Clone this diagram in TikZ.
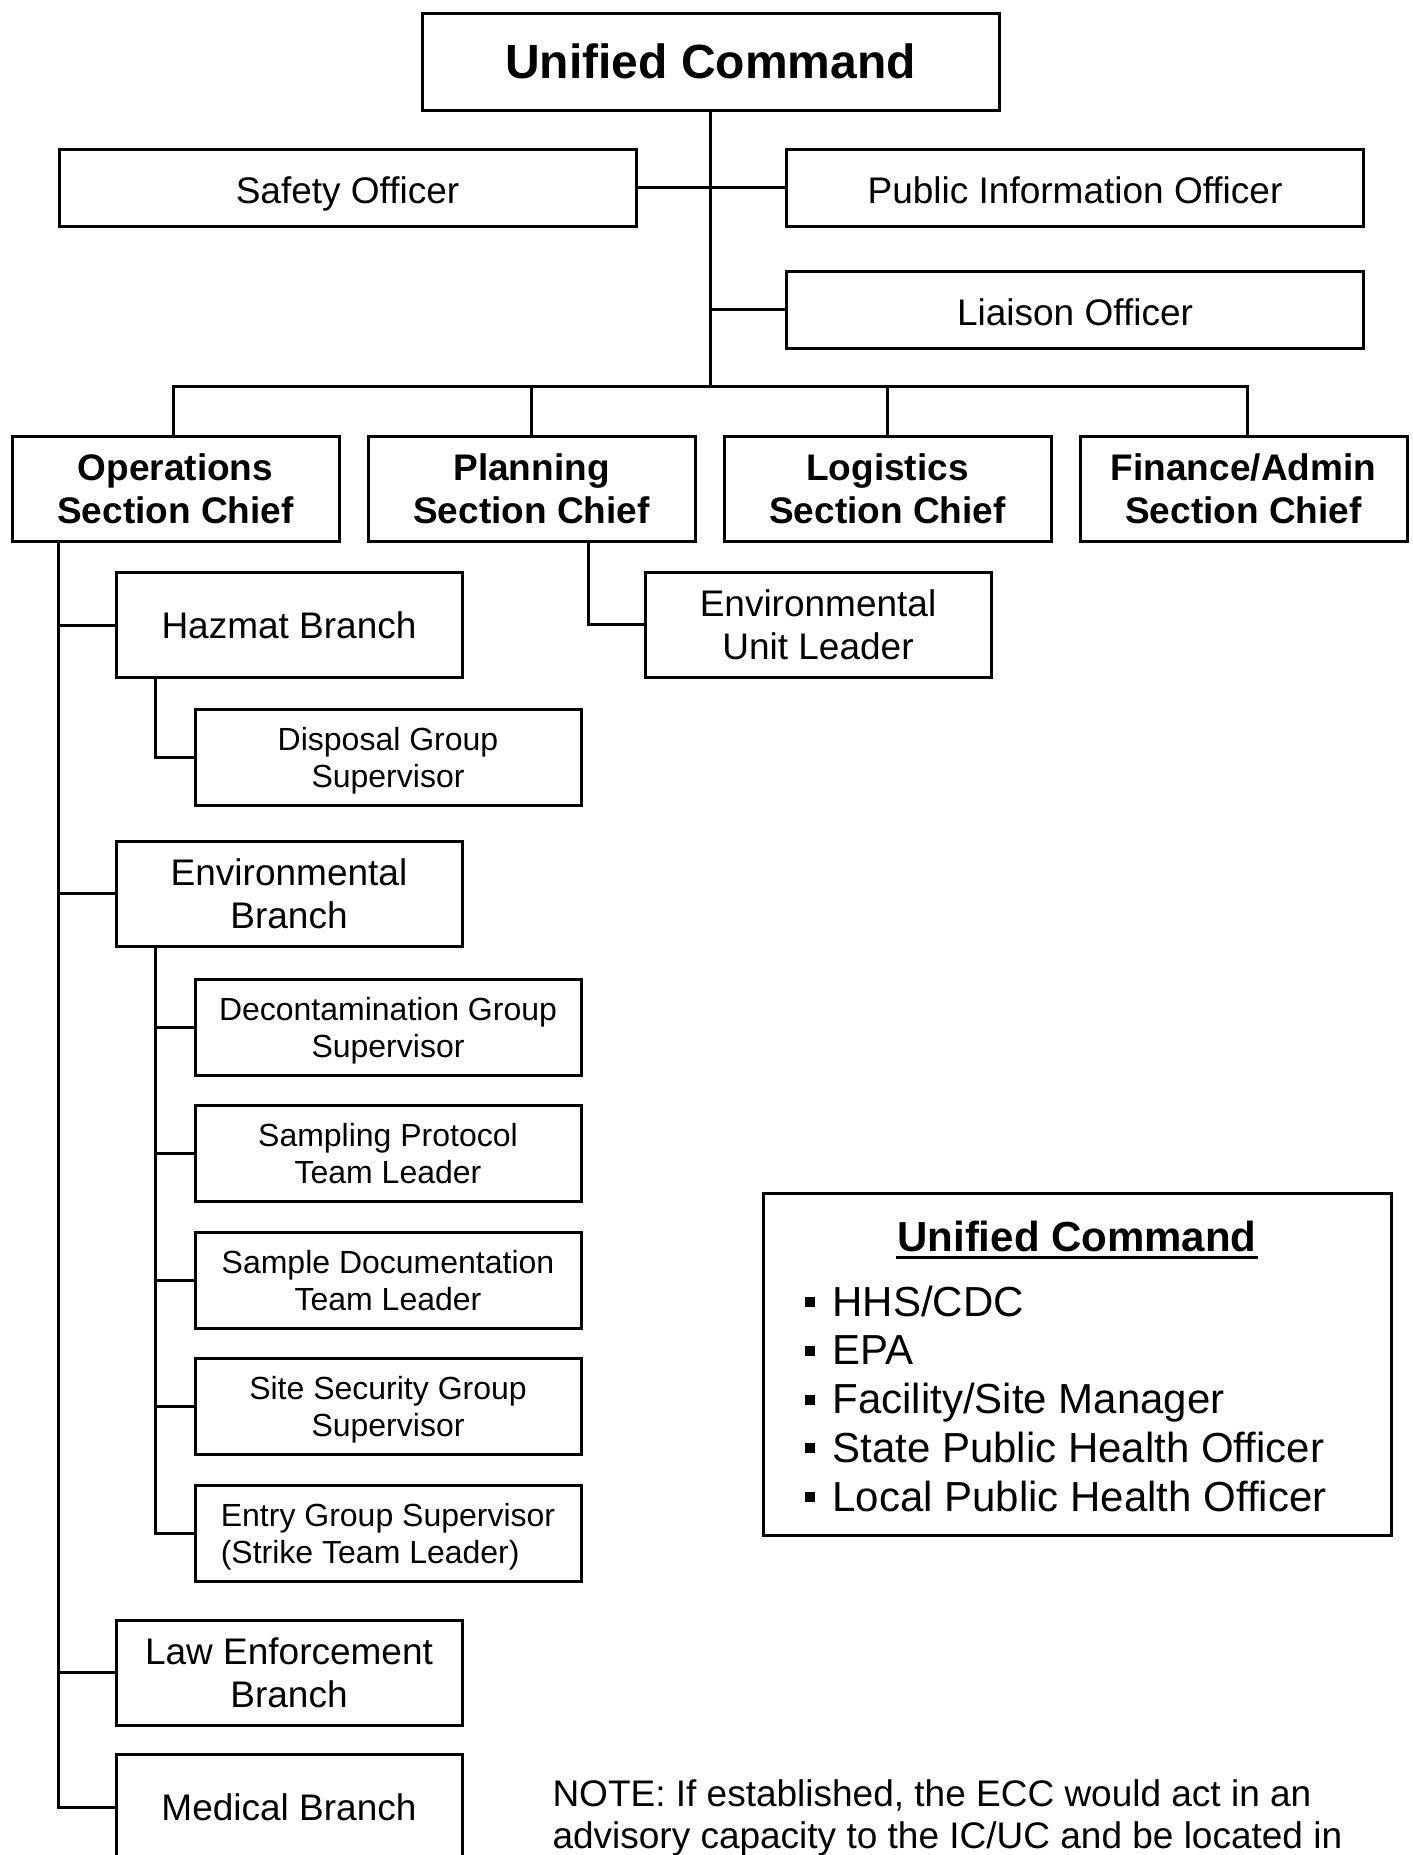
\documentclass[tikz,border=0pt]{standalone}
\usepackage{fontspec}
\setmainfont{Liberation Sans}
\usepackage{tikz}
\usetikzlibrary{positioning}
\newcommand{\legbullet}{\rule[9pt]{10pt}{10pt}\hspace{18pt}}

\begin{document}
\begin{tikzpicture}[x=1pt, y=-1pt, line width=3pt]
    \tikzstyle{ucbox} = [rectangle, draw, minimum width=577pt, minimum height=97pt, inner sep=0pt, font=\fontsize{48}{55}\selectfont\bfseries]
    \tikzstyle{officer} = [rectangle, draw, minimum width=577pt, minimum height=77pt, inner sep=0pt, text height=32pt, text depth=0pt, font=\fontsize{37}{42.5}\selectfont]
    \tikzstyle{chief} = [rectangle, draw, minimum width=327pt, minimum height=105pt, inner sep=0pt, align=center, text depth=0pt, font=\fontsize{37}{42.6}\selectfont\bfseries]
    \tikzstyle{branch} = [rectangle, draw, minimum width=346pt, minimum height=105pt, inner sep=0pt, align=center, text depth=0pt, font=\fontsize{37}{42.5}\selectfont]
    \tikzstyle{group} = [rectangle, draw, minimum width=386pt, minimum height=96pt, inner sep=0pt, align=center, text depth=0pt, font=\fontsize{32}{36.8}\selectfont]
    \tikzstyle{legitem} = [anchor=base west, inner sep=0pt, font=\fontsize{42}{48}\selectfont]

    \useasboundingbox (0,0) rectangle (1413,1855);
    \clip (0,0) rectangle (1413,1855);

    % command staff
    \node [ucbox] (uc) at (710.5,61.5) {Unified Command};
    \node [officer] (safety) at (347.5,187.5) {Safety Officer};
    \node [officer] (pio) at (1075,187.5) {Public Information Officer};
    \node [officer, below=42pt of pio] (liaison) {Liaison Officer};

    % sections
    \node [chief] (ops) at (175.5,488.5) {Operations\\Section Chief};
    \node [chief, right=26pt of ops] (plan) {Planning\\Section Chief};
    \node [chief, right=26pt of plan] (logi) {Logistics\\Section Chief};
    \node [chief, right=26pt of logi] (fin) {Finance/Admin\\Section Chief};
    \node [branch] (envunit) at (818,624.5) {Environmental\\Unit Leader};

    % operations branches
    \node [branch] (hazmat) at (289,625) {Hazmat Branch};
    \node [group] (disposal) at (388,757.5) {Disposal Group\\Supervisor};
    \node [branch] (envbranch) at (289,893.5) {Environmental\\Branch};
    \node [group] (decon) at (388,1027) {Decontamination Group\\Supervisor};
    \node [group, below=27.5pt of decon] (sampling) {Sampling Protocol\\Team Leader};
    \node [group, below=27.5pt of sampling] (sampledoc) {Sample Documentation\\Team Leader};
    \node [group, below=27.5pt of sampledoc] (sitesec) {Site Security Group\\Supervisor};
    \node [group, below=27.5pt of sitesec, align=left] (entry) {Entry Group Supervisor\\(Strike Team Leader)};
    \node [branch] (lawenf) at (289,1672.5) {Law Enforcement\\Branch};
    \node [branch] (medical) at (289,1807) {Medical Branch};

    % connectors
    \coordinate (bus) at (710.5,386);
    \draw (uc.south) -- (bus);
    \draw (safety.east) -- (pio.west);
    \draw (liaison.west) -- (liaison.west -| uc.south);
    \draw ([xshift=-2pt]ops.north) |- (bus) -| ([xshift=4pt]fin.north);
    \draw (plan.north) -- (plan.north |- bus);
    \draw (logi.north) -- (logi.north |- bus);
    \draw ([xshift=56.5pt]plan.south) |- (envunit.west);

    \coordinate (opstrunk) at ([xshift=-117pt]ops.south);
    \draw (opstrunk) |- (medical.west);
    \draw (hazmat.west) -- (hazmat.west -| opstrunk);
    \draw (envbranch.west) -- (envbranch.west -| opstrunk);
    \draw (lawenf.west) -- (lawenf.west -| opstrunk);
    \draw ([xshift=-134pt]hazmat.south) |- (disposal.west);

    \coordinate (envtrunk) at ([xshift=-134pt]envbranch.south);
    \draw (envtrunk) |- (entry.west);
    \draw (decon.west) -- (decon.west -| envtrunk);
    \draw (sampling.west) -- (sampling.west -| envtrunk);
    \draw (sampledoc.west) -- (sampledoc.west -| envtrunk);
    \draw (sitesec.west) -- (sitesec.west -| envtrunk);

    % legend
    \node [rectangle, draw, minimum width=628pt, minimum height=342pt] (legend) at (1077,1364) {};
    \node [anchor=base, inner sep=0pt, font=\fontsize{42}{48}\selectfont\bfseries] (legtitle) at (1077,1251) {Unified Command};
    \draw ([yshift=-6pt]legtitle.base west) -- ([yshift=-6pt]legtitle.base east);
    \node [legitem] (uc1) at (803,1316) {\legbullet HHS/CDC};
    \node [legitem] (uc2) at (803,1364.8) {\legbullet EPA};
    \node [legitem] (uc3) at (803,1413.6) {\legbullet Facility/Site Manager};
    \node [legitem] (uc4) at (803,1462.4) {\legbullet State Public Health Officer};
    \node [legitem] (uc5) at (803,1511.2) {\legbullet Local Public Health Officer};

    \node [anchor=north west, align=left, inner sep=0pt, font=\fontsize{37}{42.6}\selectfont] (note) at (551,1778) {NOTE: If established, the ECC would act in an\\advisory capacity to the IC/UC and be located in};
\end{tikzpicture}
\end{document}
